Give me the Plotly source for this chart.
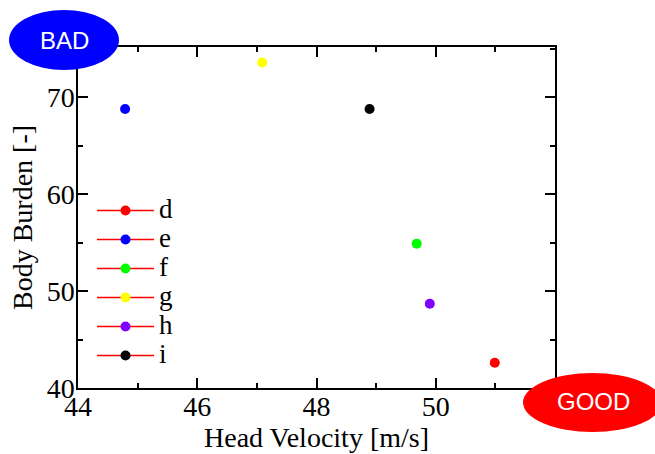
import plotly.graph_objects as go

names = ["d", "e", "f", "g", "h", "i"]
head_velocity = [50.99, 44.79, 49.68, 47.09, 49.90, 48.89]
body_burden = [42.6, 68.8, 54.9, 73.6, 48.7, 68.8]
colors = ["#ff0000", "#0000ff", "#00ff00", "#ffff00", "#8000ff", "#000000"]

W, H = 655, 454
L, R, T, B = 78, 555, 47, 388

def px(x):
    return (x - L) / (R - L)

def py(y):
    return (B - y) / (B - T)

fig = go.Figure()
for n, xv, yv, c in zip(names, head_velocity, body_burden, colors):
    fig.add_trace(go.Scatter(
        x=[xv], y=[yv], name='<span style="font-size:27px">' + n + '</span>',
        mode="lines+markers",
        line=dict(color="#ff0000", width=1.5),
        marker=dict(color=c, size=10),
    ))

serif = "Liberation Serif, Times New Roman, serif"
sans = "Liberation Sans, Arial, sans-serif"
axis_common = dict(
    showline=True, linecolor="black", linewidth=1.5, mirror="ticks",
    ticks="inside", ticklen=10, tickwidth=1.5, tickcolor="black",
    showgrid=False, zeroline=False, automargin=False,
    tickfont=dict(family=serif, size=28, color="black"),
)
fig.update_xaxes(
    range=[44, 52], dtick=2, tick0=44, ticklabelstandoff=-7,
    minor=dict(dtick=1, ticks="inside", ticklen=5, tickwidth=1.5, tickcolor="black"),
    title=dict(text="Head Velocity [m/s]", font=dict(family=serif, size=28, color="black"), standoff=0),
    **axis_common,
)
fig.update_yaxes(
    range=[40, 75.2], dtick=10, tick0=40, ticklabelstandoff=-4,
    minor=dict(dtick=5, ticks="inside", ticklen=5, tickwidth=1.5, tickcolor="black"),
    title=dict(text="Body Burden [-]", font=dict(family=serif, size=28, color="black"), standoff=6),
    **axis_common,
)

fig.update_layout(
    width=W, height=H,
    margin=dict(l=L, r=W - R, t=T, b=H - B, pad=0, autoexpand=False),
    plot_bgcolor="white", paper_bgcolor="white",
    showlegend=True,
    legend=dict(x=px(92), y=py(191), xanchor="left", yanchor="top",
                bgcolor="rgba(0,0,0,0)", font=dict(family=serif, size=20, color="black"),
                itemwidth=57, tracegroupgap=0),
    shapes=[
        dict(type="circle", xref="paper", yref="paper", layer="above",
             x0=px(9), x1=px(119), y0=py(70), y1=py(10),
             fillcolor="#0000ff", line=dict(width=0)),
        dict(type="circle", xref="paper", yref="paper", layer="above",
             x0=px(523), x1=px(662), y0=py(432), y1=py(373),
             fillcolor="#ff0000", line=dict(width=0)),
    ],
    annotations=[
        dict(text="BAD", xref="paper", yref="paper", x=px(64), y=py(40),
             xanchor="center", yanchor="middle",
             showarrow=False, font=dict(family=sans, size=24, color="white")),
        dict(text="GOOD", xref="paper", yref="paper", x=px(593), y=py(401),
             xanchor="center", yanchor="middle",
             showarrow=False, font=dict(family=sans, size=24, color="white")),
    ],
)

fig.write_html("out.html", config={"displayModeBar": False},
               post_script="document.body.style.margin='0';")
